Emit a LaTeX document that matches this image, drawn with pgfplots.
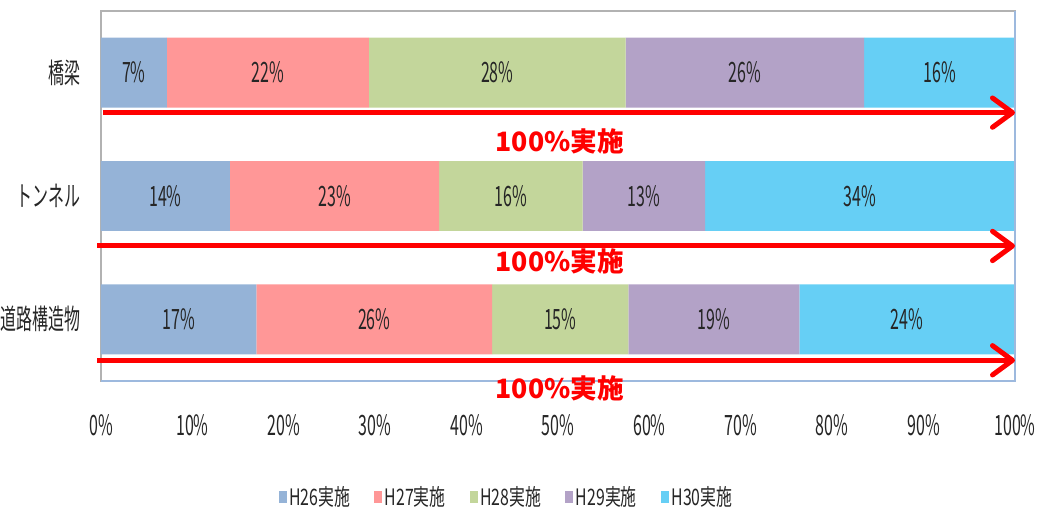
\documentclass[border=0pt]{standalone}
\usepackage{graphicx}
\usepackage{fontspec}
\setmainfont{Noto Sans CJK JP}
\usepackage{pgfplots}
\pgfplotsset{compat=1.18}
\usetikzlibrary{arrows.meta}
\newcommand{\nw}[2][0.57]{\scalebox{#1}[1]{#2}}
\definecolor{cA}{HTML}{95B3D7}
\definecolor{cB}{HTML}{FF9797}
\definecolor{cC}{HTML}{C3D69B}
\definecolor{cD}{HTML}{B3A2C7}
\definecolor{cE}{HTML}{66CFF5}
\definecolor{frameblue}{HTML}{9DB9DE}
\begin{document}
\begin{tikzpicture}
\useasboundingbox (-75.75pt,-98.25pt) rectangle (704.25pt,285.75pt);
\begin{axis}[
  at={(0pt,0pt)}, anchor=south west,
  scale only axis, width=685.5pt, height=277.5pt,
  xbar stacked, bar width=0.567,
  xmin=0, xmax=100, ymin=-0.5, ymax=2.5,
  xtick={0,10,...,100},
  xticklabel={\nw{\pgfmathprintnumber{\tick}\%}},
  /pgf/number format/assume math mode=true,
  ytick={0,1,2},
  yticklabels={\nw{道路構造物},\nw{トンネル},\nw{橋梁}},
  ticklabel style={font=\fontsize{21}{24}\selectfont, text=black!85},
  xticklabel style={yshift=-22pt},
  yticklabel style={xshift=-12pt},
  major tick length=0pt,
  axis line style={draw=gray!60, line width=0.8pt},
  clip=false,
  nodes near coords={\nw{\pgfplotspointmeta\%}},
  point meta=explicit symbolic,
  every node near coord/.append style={anchor=center, font=\fontsize{21}{24}\selectfont, text=black!85},
  legend style={at={(0.444,-0.3135)}, anchor=center, draw=none, font=\fontsize{17}{19}\selectfont, text=black!85},
  legend columns=5,
  legend cell align=left,
  /tikz/every even column/.append style={column sep=16pt},
  legend image code/.code={\fill[#1] (0pt,-4.5pt) rectangle (6pt,4.5pt);},
]
\addplot[fill=cA, draw=none] table[x=v, y=c, meta=l] {
c v l
2 7.2 7
1 14.1 14
0 17.0 17
};
\addplot[fill=cB, draw=none] table[x=v, y=c, meta=l] {
c v l
2 22.1 22
1 22.9 23
0 25.8 26
};
\addplot[fill=cC, draw=none] table[x=v, y=c, meta=l] {
c v l
2 28.1 28
1 15.7 16
0 14.9 15
};
\addplot[fill=cD, draw=none] table[x=v, y=c, meta=l] {
c v l
2 26.1 26
1 13.4 13
0 18.7 19
};
\addplot[fill=cE, draw=none] table[x=v, y=c, meta=l] {
c v l
2 16.5 16
1 33.9 34
0 23.6 24
};
\legend{\nw[0.7]{H26実施},\nw[0.7]{H27実施},\nw[0.7]{H28実施},\nw[0.7]{H29実施},\nw[0.7]{H30実施}}
\end{axis}
\begin{axis}[
  at={(0pt,0pt)}, anchor=south west,
  scale only axis, width=685.5pt, height=277.5pt,
  xmin=0, xmax=100, ymin=-0.5, ymax=2.5,
  hide axis, clip=false,
]
\addplot[frameblue, line width=0.8pt] coordinates {(0,-0.5) (100,-0.5) (100,2.5)};
\addplot[red, line width=3.75pt, -{Straight Barb[length=15pt, width=22pt, round]}] coordinates {(0.2,1.676) (100,1.676)};
\addplot[red, line width=3.75pt, -{Straight Barb[length=15pt, width=22pt, round]}] coordinates {(-0.4,0.595) (100,0.595)};
\addplot[red, line width=3.75pt, -{Straight Barb[length=15pt, width=22pt, round]}] coordinates {(-0.4,-0.332) (100,-0.332)};
\addplot[only marks, mark=none, nodes near coords={\textbf{100\%実施}}, point meta=explicit symbolic,
  every node near coord/.style={anchor=center, text=red, font=\fontsize{20}{22}\selectfont}]
  coordinates {(50.2,1.441) [a] (50.2,0.466) [b] (50.2,-0.563) [c]};
\end{axis}
\end{tikzpicture}
\end{document}
